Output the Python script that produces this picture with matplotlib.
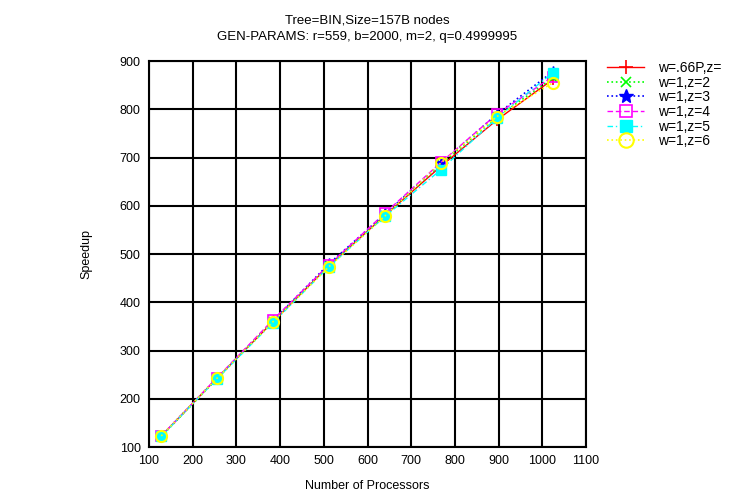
import numpy as np
import matplotlib.pyplot as plt

plt.rcParams['font.family'] = ['Liberation Sans', 'DejaVu Sans']

procs = [128, 256, 384, 512, 640, 768, 896, 1024]
red = [123, 243, 360, 476, 580, 682, 778, 862]
green = [122, 242, 361, 477, 581, 686, 784, 865]
blue = [123, 243, 362, 480, 583, 688, 790, 878]
magenta = [123, 244, 364, 478, 585, 690, 790, 868]
cyan = [122, 242, 358, 474, 578, 675, 782, 876]
yellow = [123, 243, 360, 474, 579, 689, 785, 855]
labels = ['w=.66P,z=', 'w=1,z=2', 'w=1,z=3', 'w=1,z=4', 'w=1,z=5', 'w=1,z=6']

fig = plt.figure(figsize=(7.32, 4.91), dpi=100)
ax = fig.add_axes([0.2036, 0.0896, 0.597, 0.786])

ax.plot(procs, red, color='red', ls='-', marker='+', ms=8, mew=1.2, lw=1, label=labels[0])
ax.plot(procs, green, color='#00ff00', ls=':', marker='x', ms=6, mew=1.2, lw=1.2, label=labels[1])
ax.plot(procs, blue, color='blue', ls=':', marker='*', ms=8, lw=1.2, label=labels[2])
ax.plot(procs, magenta, color='magenta', ls=(0, (4, 2)), marker='s', ms=7, mfc='none', mew=1.2, lw=1, label=labels[3])
ax.plot(procs, cyan, color='cyan', ls=(0, (4, 2, 1, 2)), marker='s', ms=7, lw=1, label=labels[4])
ax.plot(procs, yellow, color='yellow', ls=':', marker='o', ms=8, mfc='none', mew=1.5, lw=1.2, label=labels[5])

ax.set_xlim(100, 1100)
ax.set_ylim(100, 900)
ax.set_xticks(np.arange(100, 1101, 100))
ax.set_yticks(np.arange(100, 901, 100))
ax.grid(True, color='black', lw=1.5)
ax.tick_params(length=0, labelsize=9, pad=6)
for s in ax.spines.values():
    s.set_linewidth(1.5)

ax.set_xlabel('Number of Processors', fontsize=9, labelpad=9)
ax.set_ylabel('Speedup', fontsize=9, labelpad=20)
ax.set_title('Tree=BIN,Size=157B nodes\nGEN-PARAMS: r=559, b=2000, m=2, q=0.4999995', fontsize=9.5, linespacing=1.55, pad=15)

ax.legend(loc='upper left', bbox_to_anchor=(1.035, 1.015), frameon=False, fontsize=10,
          handlelength=2.7, labelspacing=0.05, borderaxespad=0, handletextpad=1.0, markerscale=1.3)

fig.savefig('out.png', dpi=100)
